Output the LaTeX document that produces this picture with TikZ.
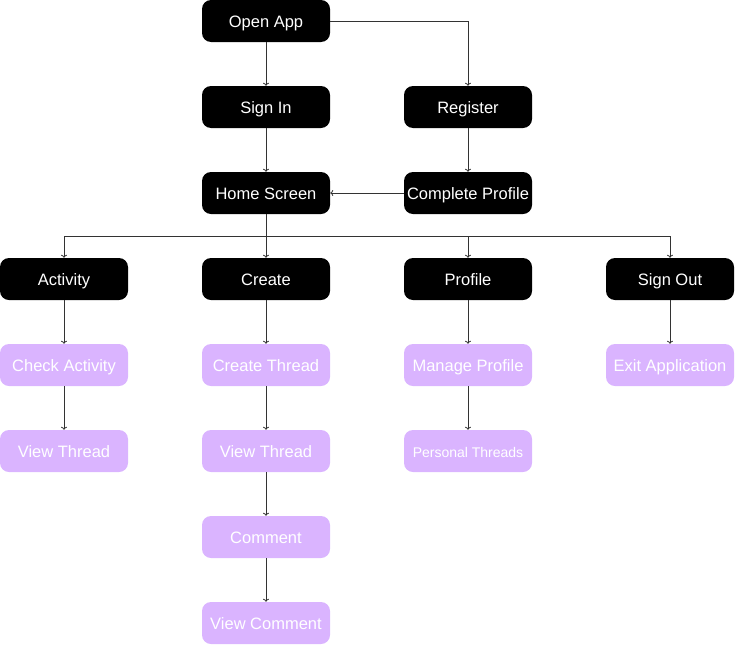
\documentclass[tikz,border=0pt]{standalone}
\usepackage{fontspec}
\setmainfont{Liberation Sans}
\usepackage{xcolor}
\usetikzlibrary{arrows.meta, positioning}

\definecolor{lilac}{RGB}{218,180,255}

\begin{document}
\begin{tikzpicture}[
    x=1pt, y=-1pt,
    % Styles
    screen/.style={
        rectangle,
        rounded corners=9pt,
        fill=#1,
        text=white,
        minimum width=128pt,
        minimum height=42pt,
        inner sep=0pt,
        text height=13.5pt,
        text depth=1.5pt,
        align=center,
        font=\fontsize{16.5}{18}\selectfont
    },
    screen/.default=black,
    action/.style={
        screen=lilac
    },
    flow/.style={
        -{To[length=3pt,width=6pt]},
        line width=0.8pt,
        black!80
    },
    link/.style={
        line width=0.8pt,
        black!80
    }
]

% Margins
\useasboundingbox (0,0) rectangle (735,645);

% Main screens
\node[screen] (open) at (266, 21) {Open App};
\node[screen] (signin) at (266, 107) {Sign In};
\node[screen] (register) at (468, 107) {Register};
\node[screen] (home) at (266, 193) {Home Screen};
\node[screen] (complete) at (468, 193) {Complete Profile};

% Menu
\node[screen] (activity) at (64, 279) {Activity};
\node[screen] (create) at (266, 279) {Create};
\node[screen] (profile) at (468, 279) {Profile};
\node[screen] (signout) at (670, 279) {Sign Out};

% Actions
\node[action] (check) at (64, 365) {Check Activity};
\node[action] (viewA) at (64, 451) {View Thread};
\node[action] (newthread) at (266, 365) {Create Thread};
\node[action] (viewB) at (266, 451) {View Thread};
\node[action] (comment) at (266, 537) {Comment};
\node[action] (viewcomment) at (266, 623) {View Comment};
\node[action] (manage) at (468, 365) {Manage Profile};
\node[action, font=\fontsize{14}{16}\selectfont] (personal) at (468, 451) {Personal Threads};
\node[action] (exit) at (670, 365) {Exit Application};

% Login flow
\draw[flow] (open) -- (signin);
\draw[flow] (open.east) -| (register.north);
\draw[flow] (signin) -- (home);
\draw[flow] (register) -- (complete);
\draw[flow] (complete) -- (home);

% Home to menu
\coordinate (split) at (266, 236);
\draw[link] (home.south) -- (split);
\draw[link] (activity.north |- split) -- (signout.north |- split);
\draw[flow] (activity.north |- split) -- (activity.north);
\draw[flow] (split) -- (create.north);
\draw[flow] (profile.north |- split) -- (profile.north);
\draw[flow] (signout.north |- split) -- (signout.north);

% Menu actions
\draw[flow] (activity) -- (check);
\draw[flow] (check) -- (viewA);
\draw[flow] (create) -- (newthread);
\draw[flow] (newthread) -- (viewB);
\draw[flow] (viewB) -- (comment);
\draw[flow] (comment) -- (viewcomment);
\draw[flow] (profile) -- (manage);
\draw[flow] (manage) -- (personal);
\draw[flow] (signout) -- (exit);

\end{tikzpicture}
\end{document}
